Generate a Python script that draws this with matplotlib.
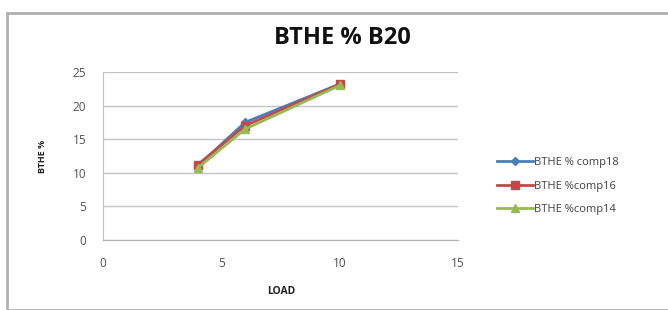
import matplotlib
matplotlib.use("Agg")
import matplotlib.pyplot as plt
from matplotlib.patches import Rectangle

load = [4, 6, 10]
comp18 = [11.0, 17.5, 23.2]
comp16 = [11.2, 17.0, 23.2]
comp14 = [10.7, 16.5, 23.0]
labels = ["BTHE % comp18", "BTHE %comp16", "BTHE %comp14"]
xticks = [0, 5, 10, 15]
yticks = [0, 5, 10, 15, 20, 25]

plt.rcParams['font.family'] = ['Open Sans', 'DejaVu Sans']

W, H = 668, 310
fig = plt.figure(figsize=(W/100, H/100), dpi=100)
fig.patches.append(Rectangle((7/W, 0.0), 1.0, 1 - 13/H, transform=fig.transFigure,
                             fill=False, edgecolor='#b0b0b0', linewidth=2))
ax = fig.add_axes([103/W, 1 - 240/H, (458-103)/W, (240-72)/H])

colors = ['#4a7ebb', '#be4b48', '#98b954']
markers = ['D', 's', '^']
sizes = [4.5, 6, 6]
for ys, c, m, s, lab in zip([comp18, comp16, comp14], colors, markers, sizes, labels):
    ax.plot(load, ys, color=c, marker=m, markersize=s, linewidth=2, label=lab)

ax.set_xlim(0, 15)
ax.set_ylim(0, 25)
ax.set_xticks(xticks)
ax.set_yticks(yticks)
ax.grid(axis='y', color='#c4c4c4', linewidth=1)
ax.set_axisbelow(True)
for sp in ['top', 'right']:
    ax.spines[sp].set_visible(False)
ax.spines['bottom'].set_color('#b0b0b0')
ax.spines['left'].set_color('#c4c4c4')
ax.tick_params(axis='both', length=0, labelsize=8.5, colors='#505050')
ax.tick_params(axis='x', pad=12)
ax.tick_params(axis='y', pad=12)

fig.text(342/W, 1 - 38/H, "BTHE % B20", fontsize=17, fontweight='bold',
         ha='center', va='center', color='#111111')
fig.text(281/W, 1 - 291/H, "LOAD", fontsize=7.5, fontweight='bold',
         ha='center', va='center', color='#222222')
fig.text(43/W, 1 - 156/H, "BTHE %", fontsize=6.5, fontweight='bold', rotation=90,
         ha='center', va='center', color='#222222')

fig.legend(loc='center left', bbox_to_anchor=(487/W, 1 - 186/H), frameon=False,
           fontsize=8, handlelength=3.2, labelspacing=1.1, handletextpad=0.15,
           labelcolor='#404040')

fig.savefig("out.png", dpi=100)
